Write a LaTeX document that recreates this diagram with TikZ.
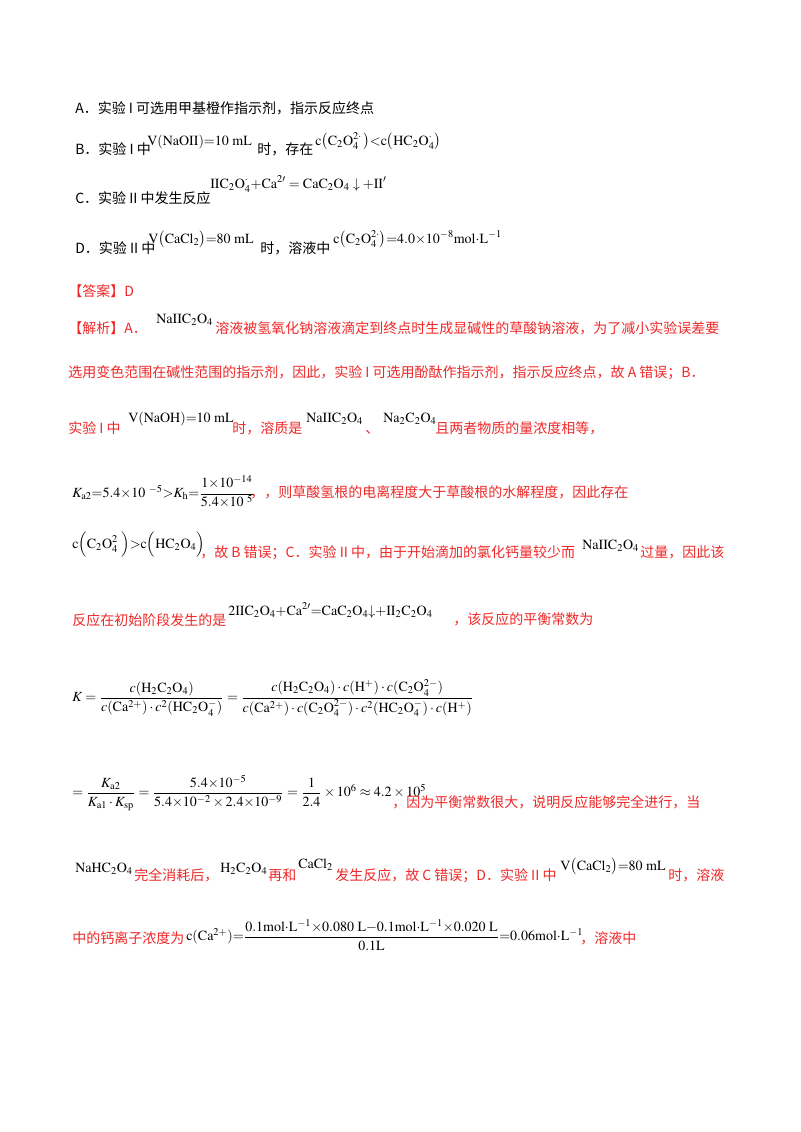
\documentclass[tikz,border=0pt]{standalone}
\usepackage{amsmath}
\usepackage{mathptmx}
\usepackage[no-math]{fontspec}
\setmainfont{Liberation Serif}
\newfontfamily\cjk{Noto Sans CJK SC}
\definecolor{ansred}{RGB}{240,40,40}
\tikzset{
  t/.style={anchor=base west,inner sep=0pt,font=\fontsize{10.5}{13}\selectfont},
  zh/.style={t,font=\fontsize{10.5}{13}\selectfont\cjk},
  rz/.style={zh,text=ansred},
  f/.style={t,font=\fontsize{10.5}{12}\selectfont},
  fm/.style={anchor=west,inner sep=0pt,font=\fontsize{10.5}{12}\selectfont}
}
\newcommand\chm[1]{\ensuremath{\mathrm{#1}}}
\begin{document}
\begin{tikzpicture}[x=0.75pt,y=-0.75pt]
\useasboundingbox (0,0) rectangle (800,1132);
\fill[white] (0,0) rectangle (800,1132);
% A
\node[zh] (a) at (75,113) {A．实验 I 可选用甲基橙作指示剂，指示反应终点};
% B
\node[zh] (b1) at (75,154) {B．实验 I 中};
\node[f] (b2) at (147,145) {\chm{V(NaOII){=}10\ mL}};
\node[zh] (b3) at (257,154) {时，存在};
\node[f] (b4) at (315,145) {\chm{c\bigl(C_2O_4^{2\cdot}\,\bigr){<}c\bigl(HC_2O_4^{\cdot}\bigr)}};
% C
\node[zh] (c1) at (75,203) {C．实验 II 中发生反应};
\node[f] (c2) at (210,188) {\chm{IIC_2O_4^{\cdot}{+}Ca^{2\prime}=CaC_2O_4\downarrow{+}II^{\prime}}};
% D
\node[zh] (d1) at (75,253) {D．实验 II 中};
\node[f] (d2) at (148,243) {\chm{V\bigl(CaCl_2\bigr){=}80\ mL}};
\node[zh] (d3) at (260,253) {时，溶液中};
\node[f] (d4) at (333,243) {\chm{c\bigl(C_2O_4^{2\cdot}\bigr){=}4.0{\times}10^{-8}mol{\cdot}L^{-1}}};
% answer
\node[rz] (ans) at (68,296) {【答案】D};
\node[rz] (j1) at (68,333) {【解析】A．};
\node[f] (j2) at (156,323) {\chm{NaIIC_2O_4}};
\node[rz] (j3) at (215,333) {溶液被氢氧化钠溶液滴定到终点时生成显碱性的草酸钠溶液，为了减小实验误差要};
\node[rz] (l2) at (68,377) {选用变色范围在碱性范围的指示剂，因此，实验 I 可选用酚酞作指示剂，指示反应终点，故 A 错误；B．};
\node[rz] (l3a) at (68,433) {实验 I 中};
\node[f] (l3b) at (128,422) {\chm{V(NaOH){=}10\ mL}};
\node[rz] (l3c) at (232,433) {时，溶质是};
\node[f] (l3d) at (306,422) {\chm{NaIIC_2O_4}};
\node[rz] (l3e) at (365,433) {、};
\node[f] (l3f) at (383,422) {\chm{Na_2C_2O_4}};
\node[rz] (l3g) at (435,433) {且两者物质的量浓度相等，};
% Ka line
\node[fm] (k1) at (72,492) {$K_{\mathrm{a2}}{=}\mathrm{5.4{\times}10^{\ -5}}{>}K_{\mathrm{h}}{=}\dfrac{\mathrm{1{\times}10^{-14}}}{\mathrm{5.4{\times}10^{\ 5}}}$};
\node[rz] (k2) at (250,497) {，，则草酸氢根的电离程度大于草酸根的水解程度，因此存在};
% c line
\node[f] (m1) at (72,548) {\chm{c\Bigl(C_2O_4^{2}\ \Bigr){>}c\Bigl(HC_2O_4\Bigr)}};
\node[rz] (m2) at (200,557) {，故 B 错误；C．实验 II 中，由于开始滴加的氯化钙量较少而};
\node[f] (m3) at (582,549) {\chm{NaIIC_2O_4}};
\node[rz] (m4) at (640,557) {过量，因此该};
% reaction line
\node[rz] (r1) at (72,625) {反应在初始阶段发生的是};
\node[f] (r2) at (228,615) {\chm{2IIC_2O_4{+}Ca^{2\prime}{=}CaC_2O_4{\downarrow}{+}II_2C_2O_4}};
\node[rz] (r3) at (453,624) {，该反应的平衡常数为};
% K expression
\node[fm] (K) at (72,698) {$K=\dfrac{c(\mathrm{H_2C_2O_4})}{c(\mathrm{Ca^{2+}})\cdot c^2(\mathrm{HC_2O_4^-})}=\dfrac{c(\mathrm{H_2C_2O_4})\cdot c(\mathrm{H^+})\cdot c(\mathrm{C_2O_4^{2-}})}{c(\mathrm{Ca^{2+}})\cdot c(\mathrm{C_2O_4^{2-}})\cdot c^2(\mathrm{HC_2O_4^-})\cdot c(\mathrm{H^+})}$};
\node[fm] (K2) at (72,793) {$=\dfrac{K_{\mathrm{a2}}}{K_{\mathrm{a1}}\cdot K_{\mathrm{sp}}}=\dfrac{\mathrm{5.4{\times}10^{-5}}}{\mathrm{5.4{\times}10^{-2}\times 2.4{\times}10^{-9}}}=\dfrac{1}{2.4}\times10^6\approx4.2\times10^5$};
\node[rz] (K3) at (392,807) {，因为平衡常数很大，说明反应能够完全进行，当};
% NaHC2O4 line
\node[f] (n1) at (75,872) {\chm{NaHC_2O_4}};
\node[rz] (n2) at (134,880) {完全消耗后，};
\node[f] (n3) at (220,872) {\chm{H_2C_2O_4}};
\node[rz] (n4) at (268,880) {再和};
\node[f] (n5) at (298,868) {\chm{CaCl_2}};
\node[rz] (n6) at (335,880) {发生反应，故 C 错误；D．实验 II 中};
\node[f] (n7) at (560,870) {\chm{V\bigl(CaCl_2\bigr){=}80\ mL}};
\node[rz] (n8) at (668,880) {时，溶液};
% last line
\node[rz] (p1) at (72,943) {中的钙离子浓度为};
\node[fm] (p2) at (186,935) {\chm{c(Ca^{2+}){=}\dfrac{0.1mol{\cdot}L^{-1}{\times}0.080\ L{-}0.1mol{\cdot}L^{-1}{\times}0.020\ L}{0.1L}{=}0.06mol{\cdot}L^{-1}}};
\node[rz] (p3) at (580,943) {，溶液中};
\end{tikzpicture}
\end{document}
